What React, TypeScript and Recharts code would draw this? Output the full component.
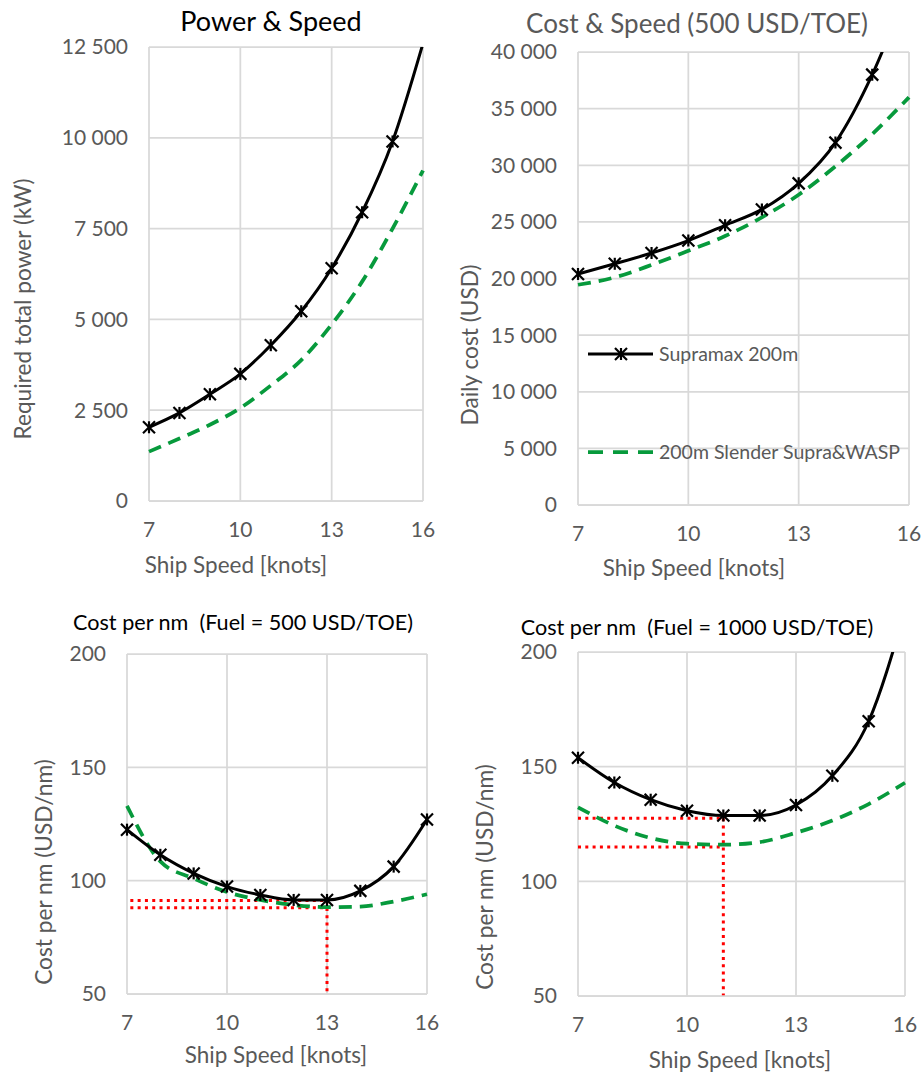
import { CartesianGrid, Line, LineChart, ReferenceLine, XAxis, YAxis } from "recharts";

const SPEED = [7, 8, 9, 10, 11, 12, 13, 14, 15, 16];
const SPEED_TICKS = [7, 10, 13, 16];

const POWER_SUPRAMAX = [2030, 2425, 2940, 3500, 4290, 5225, 6410, 7950, 9900, 12600];
const POWER_SLENDER = [1360, 1720, 2100, 2560, 3180, 3880, 4860, 6040, 7500, 9100];
const POWER_TICKS = [0, 2500, 5000, 7500, 10000, 12500];

const DAILY_SUPRAMAX = [20400, 21300, 22250, 23350, 24700, 26100, 28400, 32000, 38000, 46000];
const DAILY_SLENDER = [19450, 20100, 21200, 22450, 23750, 25400, 27400, 29900, 32750, 36000];
const DAILY_TICKS = [0, 5000, 10000, 15000, 20000, 25000, 30000, 35000, 40000];

const NM500_SUPRAMAX = [122.5, 111.4, 103.2, 97.4, 93.7, 91.5, 91.5, 95.5, 106.2, 127];
const NM500_SLENDER = [133, 108.5, 101, 95, 91.5, 89.3, 88.3, 88.6, 90.8, 94];
const NM1000_SUPRAMAX = [153.9, 143.1, 135.6, 130.8, 128.7, 128.7, 133.3, 146, 169.8, 218];
const NM1000_SLENDER = [132.3, 124.3, 118.9, 116.4, 116, 117.1, 121.2, 126.5, 133.7, 143];
const NM_TICKS = [50, 100, 150, 200];

// optimum markers (speed, cost)
const NM500_OPT = { from: 7.1, speed: 13, supramax: 91.2, slender: 88.1 };
const NM1000_OPT = { from: 7, speed: 11, supramax: 127.5, slender: 115 };

const FONT = "Lato, 'Open Sans', sans-serif";
const GRAY = "#595959";
const GRID = "#d9d9d9";
const GREEN = "#079a3c";
const RED = "#ff0000";

const fmt = (n: number) => String(n).replace(/\B(?=(\d{3})+(?!\d))/g, " ");

function table(a: number[], b: number[]) {
  return SPEED.map((s, i) => ({ speed: s, supramax: a[i], slender: b[i] }));
}

function starDot(max: number) {
  return (p: any) => {
    const { cx, cy, value, index } = p;
    if (cx == null || cy == null || value > max) return <g key={`s${index}`} />;
    const r = 6;
    return (
      <g key={`s${index}`} stroke="#000" strokeWidth={2.2}>
        <line x1={cx - r} y1={cy - r} x2={cx + r} y2={cy + r} />
        <line x1={cx - r} y1={cy + r} x2={cx + r} y2={cy - r} />
        <line x1={cx} y1={cy - r} x2={cx} y2={cy + r} />
      </g>
    );
  };
}

type Opt = { from: number; speed: number; supramax: number; slender: number };

type PanelProps = {
  x0: number;
  x1: number;
  y0: number;
  y1: number;
  data: { speed: number; supramax: number; slender: number }[];
  yTicks: number[];
  opt?: Opt;
};

const YW = 110;
const XH = 50;
const TOP = 24;

function Panel({ x0, x1, y0, y1, data, yTicks, opt }: PanelProps) {
  const yMax = yTicks[yTicks.length - 1];
  const dots = { stroke: RED, strokeWidth: 3, strokeDasharray: "3 4.3" };
  return (
    <div style={{ position: "absolute", left: x0 - YW, top: y0 - TOP }}>
      <LineChart
        width={x1 - x0 + YW + 24}
        height={y1 - y0 + TOP + XH}
        data={data}
        margin={{ top: TOP, right: 24, bottom: 0, left: 0 }}
      >
        <CartesianGrid stroke={GRID} strokeWidth={1.75} />
        <XAxis
          dataKey="speed"
          type="number"
          domain={[7, 16]}
          ticks={SPEED_TICKS}
          interval={0}
          height={XH}
          axisLine={{ stroke: GRID, strokeWidth: 1.75 }}
          tickLine={false}
          tickSize={0}
          tickMargin={21}
          tick={{ fill: GRAY, fontSize: 21, fontFamily: FONT }}
        />
        <YAxis
          type="number"
          domain={[yTicks[0], yMax]}
          ticks={yTicks}
          interval={0}
          allowDataOverflow
          width={YW}
          axisLine={false}
          tickLine={false}
          tickSize={0}
          tickMargin={21}
          tickFormatter={fmt}
          tick={{ fill: GRAY, fontSize: 21, fontFamily: FONT }}
        />
        {opt && (
          <>
            <ReferenceLine
              segment={[{ x: opt.from, y: opt.supramax }, { x: opt.speed, y: opt.supramax }]}
              {...dots}
            />
            <ReferenceLine
              segment={[{ x: opt.from, y: opt.slender }, { x: opt.speed, y: opt.slender }]}
              {...dots}
            />
            <ReferenceLine
              segment={[{ x: opt.speed, y: opt.supramax }, { x: opt.speed, y: yTicks[0] }]}
              {...dots}
            />
          </>
        )}
        <Line
          dataKey="slender"
          type="monotone"
          stroke={GREEN}
          strokeWidth={3.75}
          strokeDasharray="13 8"
          dot={false}
          activeDot={false}
          isAnimationActive={false}
        />
        <Line
          dataKey="supramax"
          type="monotone"
          stroke="#000"
          strokeWidth={3}
          dot={starDot(yMax)}
          activeDot={false}
          isAnimationActive={false}
        />
      </LineChart>
    </div>
  );
}

function Txt({
  x,
  y,
  size,
  color = GRAY,
  rotate = false,
  children,
}: {
  x: number;
  y: number;
  size: number;
  color?: string;
  rotate?: boolean;
  children: string;
}) {
  return (
    <div
      style={{
        position: "absolute",
        left: x,
        top: y,
        transform: `translate(-50%, -50%)${rotate ? " rotate(-90deg)" : ""}`,
        whiteSpace: "pre",
        fontFamily: FONT,
        fontSize: size,
        color,
        lineHeight: 1,
      }}
    >
      {children}
    </div>
  );
}

function LegendBox() {
  return (
    <div style={{ position: "absolute", left: 586, top: 336, fontFamily: FONT }}>
      <svg width={70} height={130} style={{ position: "absolute", left: 0, top: 0 }}>
        <line x1={2} y1={18} x2={67} y2={18} stroke="#000" strokeWidth={3} />
        <g stroke="#000" strokeWidth={2.2}>
          <line x1={29} y1={12} x2={41} y2={24} />
          <line x1={29} y1={24} x2={41} y2={12} />
          <line x1={35} y1={12} x2={35} y2={24} />
        </g>
        <line x1={2} y1={116} x2={67} y2={116} stroke={GREEN} strokeWidth={3.75} strokeDasharray="15 10" />
      </svg>
      <div style={{ position: "absolute", left: 73, top: 6, fontSize: 19.5, color: GRAY, whiteSpace: "nowrap" }}>
        Supramax 200m
      </div>
      <div style={{ position: "absolute", left: 73, top: 104, fontSize: 19.5, color: GRAY, whiteSpace: "nowrap" }}>
        200m Slender Supra&amp;WASP
      </div>
    </div>
  );
}

export default function App() {
  return (
    <div
      style={{
        position: "absolute",
        left: 0,
        top: 0,
        width: 922,
        height: 1072,
        background: "#fff",
        overflow: "hidden",
      }}
    >
      <Panel x0={149} x1={423} y0={47} y1={501} data={table(POWER_SUPRAMAX, POWER_SLENDER)} yTicks={POWER_TICKS} />
      <Panel x0={578} x1={909} y0={52} y1={505} data={table(DAILY_SUPRAMAX, DAILY_SLENDER)} yTicks={DAILY_TICKS} />
      <Panel
        x0={127}
        x1={427}
        y0={654}
        y1={994}
        data={table(NM500_SUPRAMAX, NM500_SLENDER)}
        yTicks={NM_TICKS}
        opt={NM500_OPT}
      />
      <Panel
        x0={578}
        x1={905}
        y0={652}
        y1={996}
        data={table(NM1000_SUPRAMAX, NM1000_SLENDER)}
        yTicks={NM_TICKS}
        opt={NM1000_OPT}
      />

      <Txt x={271} y={20} size={27} color="#000">Power &amp; Speed</Txt>
      <Txt x={697} y={23} size={26}>Cost &amp; Speed (500 USD/TOE)</Txt>
      <Txt x={243} y={623} size={21.6} color="#000">Cost per nm  (Fuel = 500 USD/TOE)</Txt>
      <Txt x={697} y={628} size={21.6} color="#000">Cost per nm  (Fuel = 1000 USD/TOE)</Txt>

      <Txt x={236} y={565} size={22.5}>Ship Speed [knots]</Txt>
      <Txt x={694} y={568} size={22.5}>Ship Speed [knots]</Txt>
      <Txt x={276} y={1055} size={22.5}>Ship Speed [knots]</Txt>
      <Txt x={740} y={1060} size={22.5}>Ship Speed [knots]</Txt>

      <Txt x={23} y={309} size={22.7} rotate>Required total power (kW)</Txt>
      <Txt x={470} y={345} size={22.7} rotate>Daily cost (USD)</Txt>
      <Txt x={44} y={872} size={22.7} rotate>Cost per nm (USD/nm)</Txt>
      <Txt x={485} y={877} size={22.7} rotate>Cost per nm (USD/nm)</Txt>

      <LegendBox />
    </div>
  );
}
